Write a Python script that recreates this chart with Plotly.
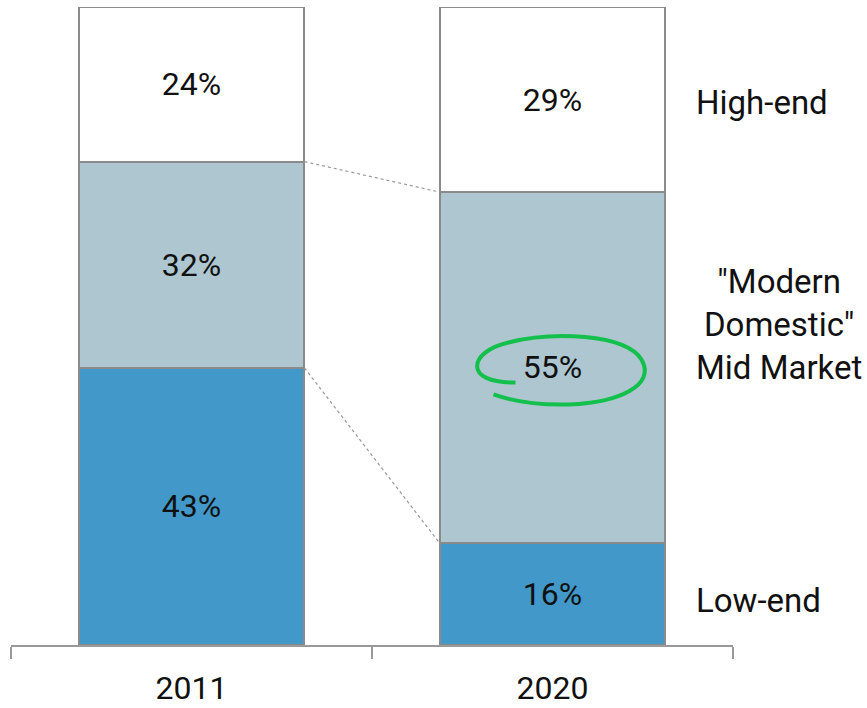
import plotly.graph_objects as go

# Market share by segment (percent)
years = ["2011", "2020"]
low_end = [43, 16]
mid_market = [32, 55]
high_end = [24, 29]

segment_names = ["Low-end", "\"Modern<br>Domestic\"<br>Mid Market", "High-end"]
segment_colors = ["#4299C9", "#ADC6D0", "#FFFFFF"]

FONT = "Roboto, Arial, sans-serif"
FS = 32
BAR_WIDTH = 0.626
W, H = 867, 708
M = dict(l=11, r=134, t=7, b=63)

fig = go.Figure()
for vals, name, color in zip([low_end, mid_market, high_end], segment_names, segment_colors):
    fig.add_trace(go.Bar(
        x=years, y=vals, name=name,
        width=BAR_WIDTH,
        marker=dict(color=color, line=dict(color="#8A8A8A", width=2)),
        text=[f"{v}%" for v in vals],
        textposition="inside", insidetextanchor="middle",
        textfont=dict(family=FONT, size=FS, color="#111111"),
        hoverinfo="skip",
    ))

# normalised cumulative boundaries for the connector lines
def norm_cum(i):
    tot = low_end[i] + mid_market[i] + high_end[i]
    return [low_end[i] / tot * 100, (low_end[i] + mid_market[i]) / tot * 100]

b2011, b2020 = norm_cum(0), norm_cum(1)
half = BAR_WIDTH / 2
for y0, y1 in zip(b2011, b2020):
    fig.add_shape(type="line", x0=half, x1=1 - half, y0=y0, y1=y1,
                  xref="x", yref="y", line=dict(color="#999999", width=1.2, dash="dot"))

# hand-drawn loop around the 2020 mid-market share
pw = W - M["l"] - M["r"]
ph = H - M["t"] - M["b"]
cx, cy = 1, b2020[0] + (b2020[1] - b2020[0]) / 2
def p(dx, dy):
    return f"{cx + dx * 2 / pw:.4f},{cy - dy * 100 / ph:.4f}"
loop = (f"M {p(-37, 15)} "
        f"C {p(-90, 16)} {p(-84, -16)} {p(-44, -25)} "
        f"C {p(0, -36)} {p(72, -34)} {p(89, -8)} "
        f"C {p(104, 18)} {p(66, 35)} {p(17, 37)} "
        f"C {p(-15, 38)} {p(-42, 33)} {p(-59, 27)}")
fig.add_shape(type="path", path=loop, xref="x", yref="y",
              line=dict(color="#13C04B", width=4))

# segment labels on the right
label_y = [7.0, 50.3, 85]
for name, y in zip(segment_names, label_y):
    fig.add_annotation(text=name, x=(694 - M["l"]) / pw, y=y, xref="paper", yref="y",
                       xanchor="left", yanchor="middle", align="center", showarrow=False,
                       font=dict(family=FONT, size=FS + 1, color="#111111"))

fig.update_layout(
    width=W, height=H, margin=M,
    barmode="stack", barnorm="percent",
    paper_bgcolor="white", plot_bgcolor="white",
    showlegend=False,
    xaxis=dict(
        type="category", range=[-0.5, 1.5], automargin=False,
        tickson="boundaries", ticks="outside", ticklen=12, tickwidth=2, tickcolor="#999999",
        ticklabelstandoff=14,
        showline=True, linecolor="#999999", linewidth=2, showgrid=False, zeroline=False,
        tickfont=dict(family=FONT, size=FS, color="#111111"),
    ),
    yaxis=dict(range=[0, 100], visible=False),
)

fig.write_html("out.html")
